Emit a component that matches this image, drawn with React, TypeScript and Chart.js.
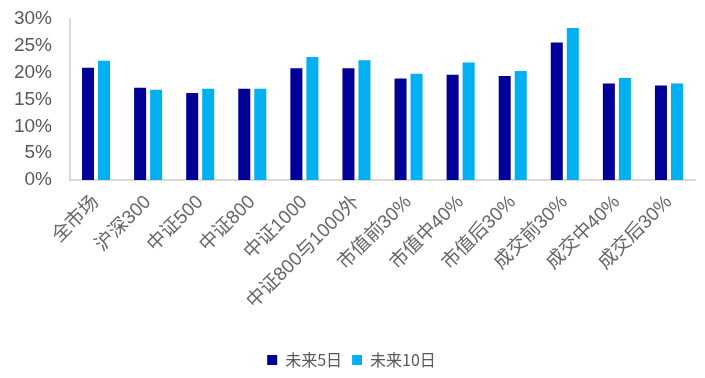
import React, { useEffect, useRef } from "react";
import { Chart, registerables } from "chart.js";

Chart.register(...registerables);

const categories = [
  "全市场",
  "沪深300",
  "中证500",
  "中证800",
  "中证1000",
  "中证800与1000外",
  "市值前30%",
  "市值中40%",
  "市值后30%",
  "成交前30%",
  "成交中40%",
  "成交后30%",
];

const next5Days = [20.9, 17.2, 16.2, 17.0, 20.8, 20.8, 18.9, 19.6, 19.4, 25.6, 18.0, 17.6];
const next10Days = [22.2, 16.8, 17.0, 17.0, 22.9, 22.3, 19.8, 21.9, 20.3, 28.3, 19.0, 18.0];

const seriesNames = ["未来5日", "未来10日"];
const yTicks = [0, 5, 10, 15, 20, 25, 30];

export default function App() {
  const ref = useRef<HTMLCanvasElement | null>(null);

  useEffect(() => {
    if (!ref.current) return;
    const chart = new Chart(ref.current, {
      type: "bar",
      data: {
        labels: categories,
        datasets: [
          {
            label: seriesNames[0],
            data: next5Days,
            backgroundColor: "#000099",
            categoryPercentage: 0.615,
            barPercentage: 0.75,
          },
          {
            label: seriesNames[1],
            data: next10Days,
            backgroundColor: "#00B0F0",
            categoryPercentage: 0.615,
            barPercentage: 0.75,
          },
        ],
      },
      options: {
        responsive: false,
        animation: false,
        layout: { padding: { left: 8, right: 10, top: 19, bottom: 0 } },
        plugins: {
          tooltip: { enabled: false },
          legend: {
            position: "bottom",
            labels: {
              boxWidth: 10,
              boxHeight: 10,
              padding: 10,
              color: "#595959",
              font: { family: "'Noto Sans CJK SC', sans-serif", size: 16 },
            },
          },
        },
        scales: {
          x: {
            grid: { display: false, drawTicks: false },
            border: { display: true, color: "#d9d9d9", width: 2 },
            ticks: {
              minRotation: 45,
              maxRotation: 45,
              autoSkip: false,
              color: "#666666",
              padding: 11,
              font: { family: "'Liberation Sans', 'Noto Sans CJK SC', sans-serif", size: 19 },
            },
            afterFit: (s: any) => {
              s.height = 162;
              s.paddingLeft = 0;
              s.paddingRight = 0;
            },
          },
          y: {
            min: 0,
            max: 30,
            grid: { display: false, drawTicks: false },
            border: { display: true, color: "#d9d9d9", width: 2 },
            afterBuildTicks: (s: any) => {
              s.ticks = yTicks.map((v) => ({ value: v }));
            },
            ticks: {
              autoSkip: false,
              color: "#595959",
              padding: 18,
              font: { family: "'Liberation Sans', Arial, sans-serif", size: 19 },
              callback: (v: any) => v + "%",
            },
            afterFit: (s: any) => {
              s.width = 62;
              s.paddingTop = 0;
              s.paddingBottom = 0;
            },
          },
        },
      },
    });
    return () => chart.destroy();
  }, []);

  return (
    <div style={{ position: "absolute", left: 0, top: 0, width: 705, height: 378, background: "#fff" }}>
      <canvas ref={ref} width={705} height={378} />
    </div>
  );
}
